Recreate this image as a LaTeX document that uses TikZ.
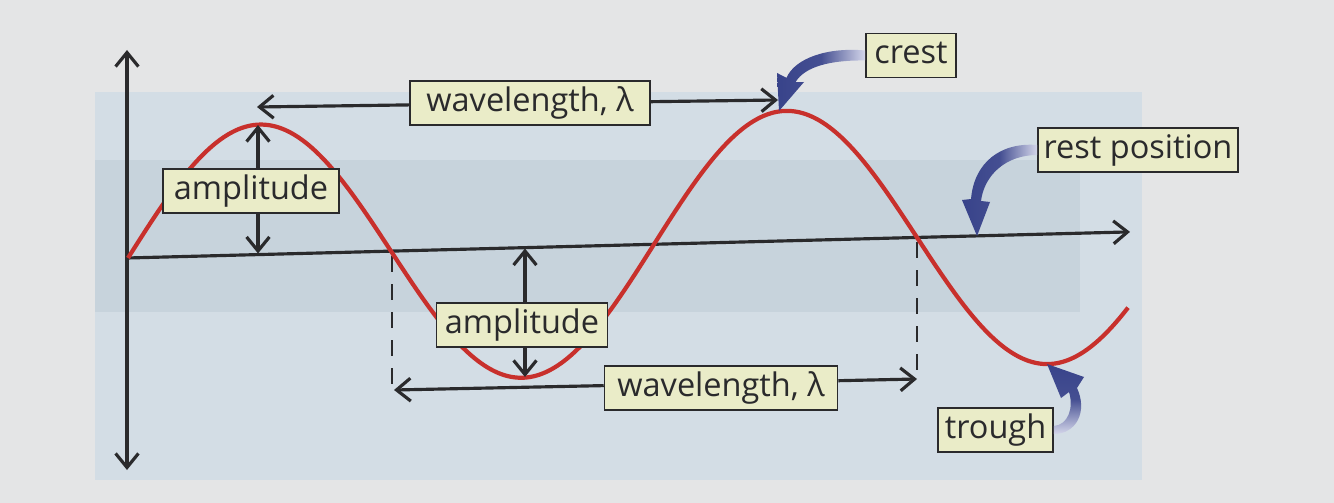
\documentclass[tikz,border=0pt]{standalone}
\usepackage{fontspec}
\setmainfont{Open Sans}
\usetikzlibrary{arrows.meta,calc}
\definecolor{pagebg}{HTML}{E4E5E6}
\definecolor{panel}{HTML}{D3DDE5}
\definecolor{band}{HTML}{C7D3DC}
\definecolor{wavered}{HTML}{C8302C}
\definecolor{ink}{HTML}{2A2A2C}
\definecolor{boxfill}{HTML}{EAECC8}
\definecolor{arrdark}{HTML}{38438A}
\definecolor{arrlight}{HTML}{D4D6EA}
\begin{document}
\begin{tikzpicture}[x=0.02cm,y=-0.02cm,
  textbox/.style={draw=ink, line width=0.9pt, fill=boxfill, text=ink,
    font=\fontsize{18.5}{20}\selectfont, minimum height=0.88cm,
    inner sep=0pt, text height=13.5pt, text depth=4pt},
  axisline/.style={draw=ink, line width=1.8pt},
  arr/.style={axisline, -{Straight Barb[length=8pt,width=13pt]}},
  dblarr/.style={axisline, {Straight Barb[length=8pt,width=13pt]}-{Straight Barb[length=8pt,width=13pt]}},
  wavepath/.style={draw=wavered, line width=2.4pt},
  dashguide/.style={draw=ink, line width=1.2pt, dash pattern=on 9pt off 7pt},
  fatarrow/.style={draw=none}
]
% background
\fill[pagebg] (0,0) rectangle (1334,503);
\fill[panel] (95,92) rectangle (1142,480);
\fill[band] (95,160) rectangle (1080,312);
\useasboundingbox (0,0) rectangle (1334,503);

% key points
\coordinate (axT) at (127,50);
\coordinate (axB) at (127,470);
\coordinate (rest0) at (127,258);
\coordinate (rest1) at (1130,231.9);
\coordinate (c1) at (258,125);
\coordinate (r1) at (258,253.5);
\coordinate (r2) at (525,248.5);
\coordinate (t1) at (525,377);
\coordinate (wlAL) at (257,107);
\coordinate (wlAR) at (778,100);
\coordinate (wlBL) at (394,390);
\coordinate (wlBR) at (917,379);
\coordinate (dLtop) at (392,256);
\coordinate (dRtop) at (917,242);

% dashed guides
\draw[dashguide] (dLtop) -- (dLtop |- wlBL);
\draw[dashguide] (dRtop) -- (wlBR);

% axes
\draw[dblarr] (axB) -- (axT);
\draw[arr] (rest0) -- (rest1);

% wave
\draw[wavepath] plot[domain=128:1128, samples=220, smooth]
  (\x, {258 - 130*sin((\x-128)/526*360) - 0.026*(\x-128)});

% labels
\node[textbox, minimum width=4.8cm] (wlA) at (530,103) {wavelength, λ};
\node[textbox, minimum width=3.52cm] (ampA) at (251,191) {amplitude};
\node[textbox, minimum width=1.8cm] (crest) at (911,55.5) {crest};
\node[textbox, minimum width=4.0cm] (rest) at (1138,150) {rest position};
\node[textbox, minimum width=3.42cm] (ampB) at (522,325) {amplitude};
\node[textbox, minimum width=4.66cm] (wlB) at (721,388) {wavelength, λ};
\node[textbox, minimum width=2.3cm] (trough) at (995.5,430) {trough};

% amplitude arrows
\draw[arr] (ampA.north -| c1) -- (c1);
\draw[arr] (ampA.south -| r1) -- (r1);
\draw[arr] (ampB.north -| r2) -- (r2);
\draw[arr] (ampB.south -| t1) -- (t1);

% wavelength arrows
\draw[arr] ($(wlA.west)+(0,1.9)$) -- (wlAL);
\draw[arr] ($(wlA.east)+(0,-1.3)$) -- (wlAR);
\draw[arr] ($(wlB.west)+(0,-2.4)$) -- (wlBL);
\draw[arr] ($(wlB.east)+(0,-7.3)$) -- (wlBR);

% curved pointer arrows
\shade[fatarrow, left color=arrdark, right color=arrlight, middle color=arrdark!92!arrlight]
  ($(crest.west)+(0,-5)$) .. controls (828,47) and (795,58) .. (786.5,77.8)
  -- (777,73) -- (779,111) -- (804,82) -- (795.5,82.2)
  .. controls (805,66) and (832,60) .. ($(crest.west)+(0,5)$) -- cycle;
\shade[fatarrow, left color=arrdark, right color=arrlight, middle color=arrdark!92!arrlight]
  ($(rest.west)+(0,-5)$) .. controls (1000,142) and (974,163) .. (971,199)
  -- (962,200) -- (977,236) -- (990,202) -- (981,201)
  .. controls (984,176) and (1005,155) .. ($(rest.west)+(0,5)$) -- cycle;
\shade[fatarrow, top color=arrdark, bottom color=arrlight, middle color=arrdark!92!arrlight]
  ($(trough.east)+(0,-4)$) .. controls (1068,425) and (1074,408) .. (1069,392)
  -- (1061,398) -- (1047,364) -- (1084,377) -- (1077,388)
  .. controls (1088,412) and (1076,434) .. ($(trough.east)+(0,4)$) -- cycle;
\end{tikzpicture}
\end{document}
